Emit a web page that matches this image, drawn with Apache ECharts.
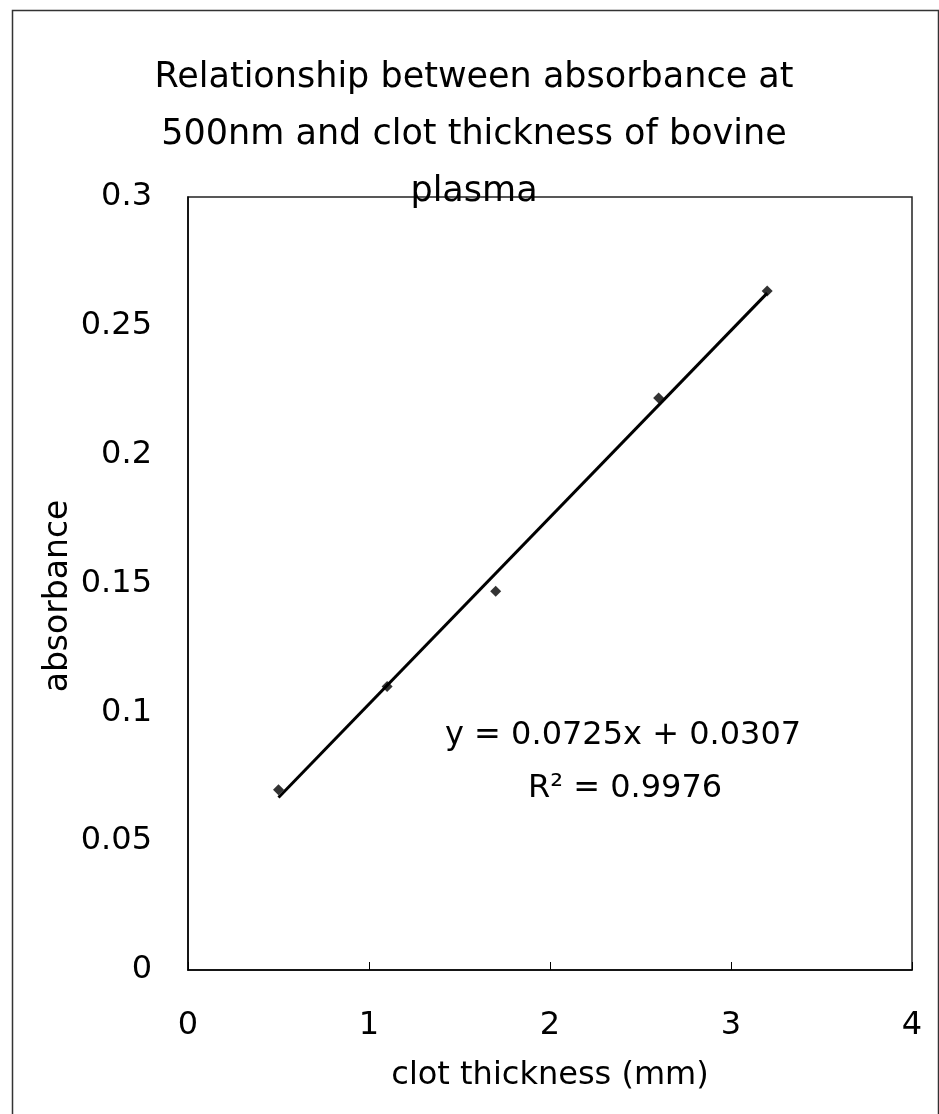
<!DOCTYPE html>
<html>
<head>
<meta charset="utf-8">
<script src="https://cdn.jsdelivr.net/npm/echarts@6/dist/echarts.min.js"></script>
<style>
  html, body { margin: 0; padding: 0; background: #fff; }
  #chart { width: 939px; height: 1114px; }
</style>
</head>
<body>
<div id="chart"></div>
<script>
// Measured clot thickness (mm) and absorbance at 500 nm
const thickness = [0.5, 1.1, 1.7, 2.6, 3.2];
const absorbance = [0.07, 0.11, 0.147, 0.222, 0.2635];

// Linear fit reported for the data
const slope = 0.0725;
const intercept = 0.0307;
const rSquared = '0.9976';

const xTicks = [0, 1, 2, 3, 4];
const yTicks = [0, 0.05, 0.1, 0.15, 0.2, 0.25, 0.3];

const FONT = 'DejaVu Sans';

const points = thickness.map((x, i) => [x, absorbance[i]]);
const xMin = Math.min(...thickness);
const xMax = Math.max(...thickness);
const fitLine = [
  [xMin, slope * xMin + intercept],
  [xMax, slope * xMax + intercept]
];

const chart = echarts.init(document.getElementById('chart'), null, { renderer: 'canvas' });

chart.setOption({
  backgroundColor: '#fff',
  animation: false,
  title: {
    text: 'Relationship between absorbance at\n500nm and clot thickness of bovine\nplasma',
    left: 469,
    top: 44,
    textAlign: 'center',
    textStyle: {
      fontFamily: FONT,
      fontSize: 35,
      fontWeight: 'normal',
      color: '#000',
      lineHeight: 57
    }
  },
  grid: {
    left: 188,
    top: 197,
    right: 27,
    bottom: 144,
    show: true,
    borderColor: '#222',
    borderWidth: 1.5,
    backgroundColor: '#fff'
  },
  xAxis: {
    type: 'value',
    min: xTicks[0],
    max: xTicks[xTicks.length - 1],
    interval: 1,
    name: 'clot thickness (mm)',
    nameLocation: 'middle',
    nameGap: 90,
    nameTextStyle: { fontFamily: FONT, fontSize: 32, color: '#000' },
    axisLine: { lineStyle: { color: '#000', width: 1.5 } },
    axisTick: { inside: true, length: 8, lineStyle: { color: '#000' } },
    axisLabel: {
      margin: 40,
      fontFamily: FONT,
      fontSize: 32,
      color: '#000'
    },
    splitLine: { show: false }
  },
  yAxis: {
    type: 'value',
    min: yTicks[0],
    max: yTicks[yTicks.length - 1],
    interval: 0.05,
    axisLine: { lineStyle: { color: '#000', width: 1.5 } },
    axisTick: { show: false },
    axisLabel: {
      margin: 36,
      fontFamily: FONT,
      fontSize: 32,
      color: '#000'
    },
    splitLine: { show: false }
  },
  graphic: [
    {
      type: 'rect',
      left: 10,
      top: 8,
      shape: { width: 926, height: 1130 },
      style: { fill: 'none', stroke: '#333', lineWidth: 1.5 },
      silent: true,
      z: -10
    },
    {
      // y-axis title, rotated to read bottom-to-top
      type: 'text',
      x: 58,
      y: 596,
      rotation: Math.PI / 2,
      style: {
        text: 'absorbance',
        font: '33px "DejaVu Sans"',
        fill: '#000',
        textAlign: 'center',
        textVerticalAlign: 'middle'
      }
    },
    {
      type: 'text',
      left: 445,
      top: 720,
      style: {
        text: 'y = ' + slope + 'x + ' + intercept,
        font: '32px "DejaVu Sans"',
        fill: '#000'
      }
    },
    {
      type: 'text',
      left: 528,
      top: 773,
      style: {
        text: 'R\u00B2 = ' + rSquared,
        font: '32px "DejaVu Sans"',
        fill: '#000'
      }
    }
  ],
  series: [
    {
      type: 'line',
      data: fitLine,
      showSymbol: false,
      lineStyle: { color: '#000', width: 3 },
      z: 2
    },
    {
      type: 'scatter',
      data: points,
      symbol: 'diamond',
      symbolSize: 11,
      itemStyle: { color: '#000' },
      z: 3
    }
  ]
});
</script>
</body>
</html>
